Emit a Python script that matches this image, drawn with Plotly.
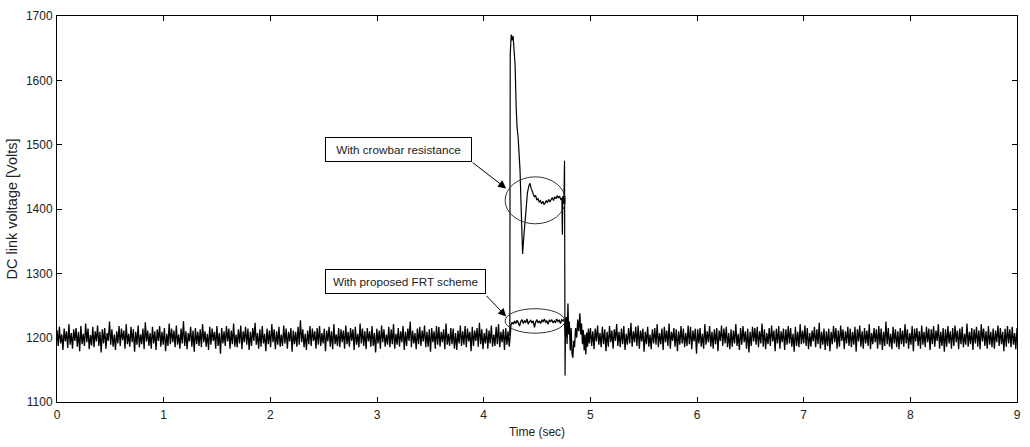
import numpy as np
import plotly.graph_objects as go

# ---------------- data ----------------
BASE = 1200  # steady DC link voltage (V)

# pre-fault ripple (deviation from 1200 V), t = 0 .. 4.24 s
pre_fault_dev = [
    12,-13,17,-9,5,-19,14,-6,10,-16,21,-11,7,-17,13,-5,15,-14,9,-21,
    18,-10,6,-13,22,-7,14,-18,4,-12,17,-15,10,-6,19,-13,9,-23,13,-9,
    15,-17,7,-5,25,-11,13,-14,5,-19,10,-9,18,-13,14,-4,11,-17,21,-10,
    6,-14,17,-7,13,-22,9,-11,19,-15,5,-10,14,-18,24,-6,11,-13,7,-17,
    17,-9,10,-19,13,-5,18,-14,9,-11,15,-21,6,-13,22,-10,14,-7,11,-15,
    19,-11,5,-17,14,-9,26,-13,10,-18,7,-6,17,-14,11,-22,15,-10,9,-13,
    13,-15,21,-7,10,-14,6,-19,17,-11,14,-5,9,-17,18,-13,7,-25,15,-9,
    10,-13,18,-6,14,-17,11,-10,22,-14,5,-15,13,-9,19,-18,10,-7,17,-11,
    14,-19,9,-13,15,-5,23,-11,7,-17,13,-14,18,-9,6,-21,14,-10,11,-15,
    21,-7,13,-18,10,-11,17,-14,5,-13,19,-9,14,-17,9,-6,15,-22,11,-10,
    9,-14,17,-11,27,-7,13,-15,6,-19,11,-10,18,-13,14,-5,10,-17,15,-11,
    18,-13,7,-9,14,-21,11,-6,17,-14,10,-18,21,-10,5,-13,15,-15,13,-7,
    11,-17,19,-10,9,-14,15,-5,13,-19,17,-11,6,-15,22,-9,14,-13,10,-18,
    15,-6,10,-14,18,-13,7,-23,14,-9,11,-17,19,-7,13,-14,5,-11,17,-15,
    13,-10,21,-17,6,-11,15,-14,10,-7,18,-19,9,-13,14,-5,25,-15,11,-9,
    7,-18,14,-10,17,-13,11,-6,19,-15,9,-14,13,-22,15,-7,10,-17,18,-11,
    17,-14,9,-7,13,-18,22,-11,6,-13,15,-10,14,-17,7,-19,11,-9,19,-13,
    10,-11,18,-15,14,-6,9,-21,17,-13,11,-5,15,-14,23,-10,13,-18,7,-9,
    14,-17,11,-9,19,-14,5,-13,17,-10,21,-15,9,-7,13,-19,15,-11,10,-14,
]
pre_fault_t = (0.0, 4.24)

# with proposed FRT scheme, during the fault, t = 4.255 .. 4.755 s
frt_fault_v = [
    1219,1224,1221,1226,1222,1227,1223,1218,1225,1228,1222,1226,1224,1229,1221,
    1225,1227,1223,1226,1216,1224,1228,1223,1226,1222,1227,1225,1229,1224,1226,
    1221,1227,1225,1228,1223,1226,1224,1229,1225,1227,1222,1228,1226,1229,
]
frt_fault_t = (4.255, 4.755)

# post-fault transient (common to both cases)
transient_t = [4.760,4.768,4.775,4.782,4.790,4.797,4.803,4.812,4.820,4.828,4.836,4.844,
               4.852,4.862,4.872,4.882,4.892,4.902,4.910,4.918,4.926,4.934,4.942,4.950,
               4.958,4.966,4.974,4.982]
transient_v = [1222,1200,1232,1190,1253,1205,1225,1180,1215,1175,1169,1195,
               1185,1215,1200,1228,1210,1238,1205,1222,1190,1212,1180,1205,
               1174,1208,1186,1214]

# post-fault ripple (deviation from 1200 V), t = 4.99 .. 9.0 s
post_fault_dev = [
    -9,15,-13,10,-18,14,-6,19,-11,7,-15,17,-10,13,-21,9,-14,18,-7,11,
    -17,13,-5,21,-13,9,-15,14,-10,18,-19,6,-11,15,-9,23,-14,10,-7,17,
    -13,19,-17,11,-6,14,-22,9,-10,17,-14,5,-18,13,-9,15,-11,21,-15,7,
    -10,14,-19,17,-7,11,-13,22,-17,9,-5,15,-14,13,-21,10,-11,18,-9,14,
    -15,7,-13,19,-10,17,-18,11,-6,14,-25,13,-9,15,-14,6,-17,21,-11,10,
    -7,18,-14,9,-17,13,-10,15,-21,11,-5,19,-13,14,-9,17,-15,7,-18,13,
    -14,11,-9,21,-13,6,-19,15,-11,18,-7,10,-17,14,-23,9,-13,17,-6,15,
    -11,17,-15,10,-9,22,-14,13,-18,7,-10,15,-13,19,-6,11,-21,14,-9,18,
    -17,10,-7,14,-19,13,-11,18,-9,15,-14,6,-22,17,-13,9,-15,21,-10,11,
    -9,19,-13,15,-18,7,-14,11,-6,17,-15,13,-10,23,-17,9,-11,14,-19,10,
    -13,14,-21,9,-10,18,-7,15,-17,11,-14,19,-5,13,-18,10,-9,17,-13,14,
    -15,9,-11,17,-22,13,-6,19,-14,10,-17,15,-9,11,-13,21,-18,7,-10,15,
    -7,13,-17,18,-11,14,-19,9,-13,25,-10,15,-14,6,-18,17,-9,13,-15,10,
    -18,15,-10,11,-14,21,-9,13,-17,7,-11,18,-21,14,-6,15,-13,10,-17,19,
    -11,9,-15,17,-7,14,-19,13,-10,18,-14,11,-5,21,-17,9,-13,15,-22,13,
    -14,18,-9,10,-17,15,-13,19,-7,11,-18,14,-10,17,-15,6,-11,22,-14,9,
    -10,15,-19,13,-9,17,-14,11,-18,21,-6,14,-13,10,-17,18,-11,9,-15,14,
    -17,11,-7,19,-13,15,-10,9,-21,14,-14,18,-9,13,-15,17,-11,7,-18,15,
]
post_fault_t = (4.99, 9.0)

# with crowbar resistance, during the fault
crowbar_t = [4.245,4.249,4.258,4.266,4.276,4.295,4.304,4.313,4.323,4.341,4.351,4.365,
             4.379,4.397,4.410,4.425,4.435,4.445,4.455,4.463,4.475,4.487,4.498,4.509,
             4.520,4.532,4.543,4.555,4.565,4.575,4.587,4.598,4.610,4.621,4.631,4.643,
             4.655,4.666,4.678,4.690,4.700,4.712,4.722,4.733,4.738,4.742,4.746,4.752,
             4.758,4.763,4.768,4.775]
crowbar_v = [1203,1640,1671,1662,1669,1623,1562,1527,1512,1460,1404,1330,
             1363,1398,1425,1437,1440,1432,1428,1424,1419,1421,1414,1416,
             1411,1413,1408,1412,1407,1409,1413,1410,1415,1411,1414,1418,
             1413,1419,1416,1421,1417,1420,1415,1417,1360,1420,1408,1410,
             1475,1141,1230,1205]

x_ticks = [0, 1, 2, 3, 4, 5, 6, 7, 8, 9]
y_ticks = [1100, 1200, 1300, 1400, 1500, 1600, 1700]

# ---------------- build series ----------------
t_pre = np.linspace(pre_fault_t[0], pre_fault_t[1], len(pre_fault_dev))
v_pre = BASE + np.array(pre_fault_dev)
t_frt = np.linspace(frt_fault_t[0], frt_fault_t[1], len(frt_fault_v))
t_post = np.linspace(post_fault_t[0], post_fault_t[1], len(post_fault_dev))
v_post = BASE + np.array(post_fault_dev)

t_main = np.concatenate([t_pre, [4.25], t_frt, transient_t, t_post])
v_main = np.concatenate([v_pre, [1205], frt_fault_v, transient_v, v_post])

fig = go.Figure()
fig.add_trace(go.Scatter(x=t_main, y=v_main, mode="lines",
                         line=dict(color="black", width=1.3, simplify=False),
                         showlegend=False, name="With proposed FRT scheme"))
fig.add_trace(go.Scatter(x=crowbar_t, y=crowbar_v, mode="lines",
                         line=dict(color="black", width=1.2, simplify=False),
                         showlegend=False, name="With crowbar resistance"))

FAM = "Liberation Sans, Arial, sans-serif"
tick_font = dict(family=FAM, size=12, color="#222")
box_font = dict(family=FAM, size=11.7, color="#222")
xtitle_font = dict(family=FAM, size=12, color="#222")
ytitle_font = dict(family=FAM, size=14.5, color="#222")

# ellipses
fig.add_shape(type="circle", xref="x", yref="y", x0=4.201, x1=4.766, y0=1377, y1=1450,
              line=dict(color="#333", width=1))
fig.add_shape(type="circle", xref="x", yref="y", x0=4.201, x1=4.762, y0=1207, y1=1245,
              line=dict(color="#333", width=1))

# labels
fig.add_annotation(x=3.198, y=1493, xref="x", yref="y", text="With crowbar resistance",
                   showarrow=False, font=box_font, bordercolor="black", borderwidth=1,
                   bgcolor="white", width=143, height=21, borderpad=1)
fig.add_annotation(x=3.263, y=1287, xref="x", yref="y", text="With proposed FRT scheme",
                   showarrow=False, font=box_font, bordercolor="black", borderwidth=1,
                   bgcolor="white", width=157, height=21, borderpad=1)
# arrows
fig.add_annotation(x=4.211, y=1432, xref="x", yref="y", text="", showarrow=True,
                   ax=-35, ay=-27, arrowhead=2, arrowsize=1.6, arrowwidth=1,
                   arrowcolor="black", standoff=0)
fig.add_annotation(x=4.211, y=1233, xref="x", yref="y", text="", showarrow=True,
                   ax=-21, ay=-22, arrowhead=2, arrowsize=1.6, arrowwidth=1,
                   arrowcolor="black", standoff=0)

axis_common = dict(showline=True, linecolor="black", linewidth=1, mirror="ticks",
                   ticks="inside", ticklen=5, tickcolor="black", tickwidth=1,
                   showgrid=False, zeroline=False, tickfont=tick_font)

fig.update_layout(
    width=1030, height=447,
    margin=dict(l=57, r=9, t=10, b=45),
    paper_bgcolor="white", plot_bgcolor="white",
    xaxis=dict(range=[0, 9], tickvals=x_ticks, ticklabelstandoff=2,
               title=dict(text="Time (sec)", font=xtitle_font, standoff=6),
               **axis_common),
    yaxis=dict(range=[1100, 1700], tickvals=y_ticks, ticklabelstandoff=1,
               title=dict(text="DC link voltage [Volts]", font=ytitle_font, standoff=4),
               **axis_common),
)

fig.write_html("out.html")
